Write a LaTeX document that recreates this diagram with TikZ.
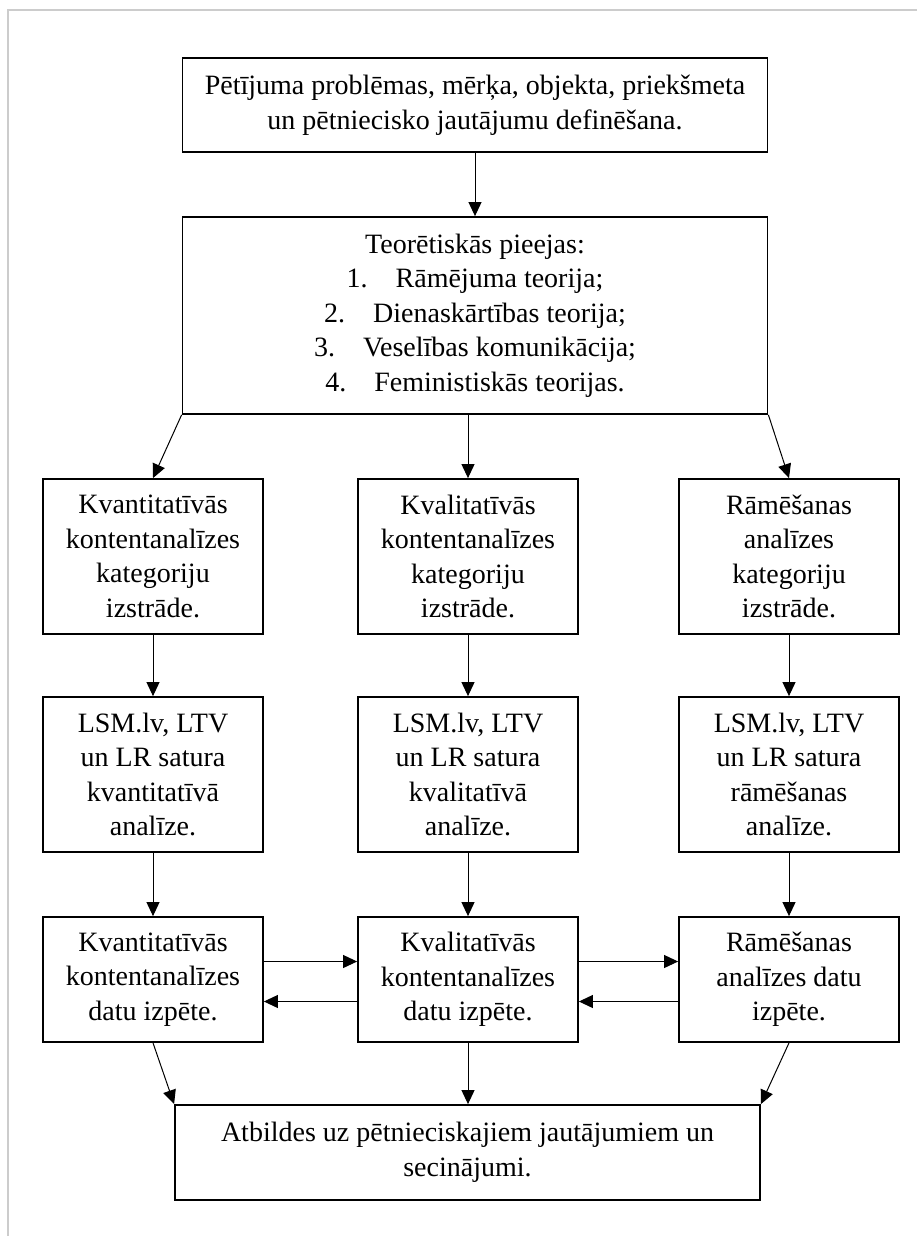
\documentclass[tikz,border=0pt]{standalone}
\usepackage{fontspec}
\setmainfont{Liberation Serif}
\usetikzlibrary{arrows.meta}

\begin{document}
\begin{tikzpicture}[x=1pt,y=-1pt,font=\fontsize{28}{34.5}\selectfont,box/.style={shape=rectangle,draw=black,line width=1.8pt,align=center,inner sep=0pt},wide/.style={box,minimum width=585pt},col/.style={box,minimum width=220pt},arr/.style={-{Triangle[length=14pt,width=13pt]},line width=1pt},frame/.style={draw=black!20,line width=2pt}]
\def\xa{153};
\def\xb{468};
\def\xc{789};
\def\xm{475};
\def\ya{556.5};
\def\yb{774.5};
\def\yc{979.5};

\useasboundingbox (0,0) rectangle (917,1236);
\draw[frame] (8,1236) -- (8,10) -- (917,10);

\node[wide,minimum height=94pt] (goal) at (\xm,105) {Pētījuma problēmas, mērķa, objekta, priekšmeta\\un pētniecisko jautājumu definēšana.};

\node[wide,minimum height=197pt] (theory) at (\xm,315.5) {Teorētiskās pieejas:\\1.\hspace{1em}Rāmējuma teorija;\\2.\hspace{1em}Dienaskārtības teorija;\\3.\hspace{1em}Veselības komunikācija;\\4.\hspace{1em}Feministiskās teorijas.};
\draw[arr] (goal.south) -- (theory.north);

\node[col,minimum height=155pt] (catQ) at (\xa,\ya) {Kvantitatīvās\\kontentanalīzes\\kategoriju\\izstrāde.};
\draw[arr] (theory.south west) -- (catQ.north);
\node[col,minimum height=155pt] (catK) at (\xb,\ya) {Kvalitatīvās\\kontentanalīzes\\kategoriju\\izstrāde.};
\draw[arr] (catK.north |- theory.south) -- (catK.north);
\node[col,minimum height=155pt] (catR) at (\xc,\ya) {Rāmēšanas\\analīzes\\kategoriju\\izstrāde.};
\draw[arr] (theory.south east) -- (catR.north);

\node[col,minimum height=155pt] (anaQ) at (\xa,\yb) {LSM.lv, LTV\\un LR satura\\kvantitatīvā\\analīze.};
\draw[arr] (catQ.south) -- (anaQ.north);
\node[col,minimum height=155pt] (anaK) at (\xb,\yb) {LSM.lv, LTV\\un LR satura\\kvalitatīvā\\analīze.};
\draw[arr] (catK.south) -- (anaK.north);
\node[col,minimum height=155pt] (anaR) at (\xc,\yb) {LSM.lv, LTV\\un LR satura\\rāmēšanas\\analīze.};
\draw[arr] (catR.south) -- (anaR.north);

\node[col,minimum height=125pt] (datQ) at (\xa,\yc) {Kvantitatīvās\\kontentanalīzes\\datu izpēte.};
\draw[arr] (anaQ.south) -- (datQ.north);
\node[col,minimum height=125pt] (datK) at (\xb,\yc) {Kvalitatīvās\\kontentanalīzes\\datu izpēte.};
\draw[arr] (anaK.south) -- (datK.north);
\node[col,minimum height=125pt] (datR) at (\xc,\yc) {Rāmēšanas\\analīzes datu\\izpēte.};
\draw[arr] (anaR.south) -- (datR.north);

% back and forth between the data boxes
\draw[arr] ([yshift=18pt]datQ.east) -- ([yshift=18pt]datK.west);
\draw[arr] ([yshift=-22pt]datK.west) -- ([yshift=-22pt]datQ.east);
\draw[arr] ([yshift=18pt]datK.east) -- ([yshift=18pt]datR.west);
\draw[arr] ([yshift=-22pt]datR.west) -- ([yshift=-22pt]datK.east);

\node[box,minimum width=585pt,minimum height=95pt] (answ) at (467.5,1152.5) {Atbildes uz pētnieciskajiem jautājumiem un\\secinājumi.};
\draw[arr] (datQ.south) -- (answ.north west);
\draw[arr] (datK.south) -- (answ.north -| datK.south);
\draw[arr] (datR.south) -- (answ.north east);
\end{tikzpicture}
\end{document}
